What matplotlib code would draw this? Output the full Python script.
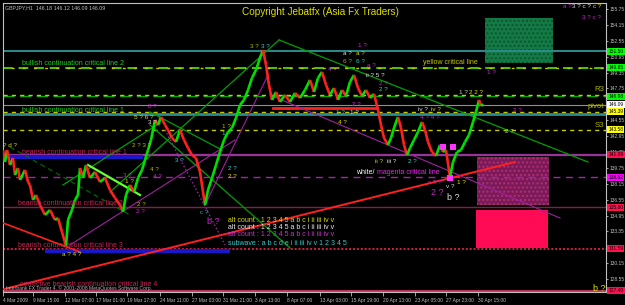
import matplotlib
matplotlib.use('Agg')
import matplotlib.pyplot as plt
from matplotlib.collections import LineCollection
from matplotlib.patches import Rectangle
import numpy as np

plt.rcParams['font.family'] = ['Liberation Sans', 'DejaVu Sans']

# GBPJPY H1 price path (bar index, price)
bars = [0, 4, 8, 14, 20, 24, 30, 34, 44, 50, 54, 60, 66, 74, 84, 94, 104, 110, 118, 126,
        130, 138, 144, 150, 154, 160, 166, 174, 184, 194, 204, 214, 224, 234, 240, 246, 254,
        262, 270, 278, 284, 290, 296, 304, 310, 316, 324, 330, 338, 346, 354, 362, 370, 378,
        386, 394, 404, 410, 418, 426, 434, 442, 450, 458, 466, 474, 482, 490, 498, 506, 514,
        520, 526, 532, 538, 546, 554, 564, 574, 584, 594, 604, 614, 622, 630, 638, 646, 654,
        662, 670, 678, 686, 694, 702, 710, 718, 726, 734, 742, 750, 756, 762, 770, 776, 782,
        790, 796, 802, 808, 814, 822, 830, 838, 844, 850, 858, 866, 874, 880, 886, 894, 900,
        908, 916, 924, 932, 940, 946, 952, 956, 960]
prices = [141.55, 140.34, 141.55, 140.04, 140.74, 139.03, 139.74, 138.53, 139.54, 138.33,
          138.03, 136.52, 137.02, 136.01, 135.01, 135.51, 134.50, 134.70, 133.29, 131.88,
          134.50, 135.51, 136.52, 137.02, 139.74, 138.73, 140.04, 138.73, 139.34, 138.33,
          138.73, 137.52, 136.72, 136.01, 135.31, 137.02, 138.03, 137.32, 138.73, 139.54,
          140.54, 141.55, 142.56, 144.57, 144.07, 144.88, 144.07, 143.57, 142.76, 142.36,
          143.57, 142.56, 141.75, 141.05, 140.74, 139.34, 136.01, 137.52, 138.73, 140.04,
          141.35, 142.56, 143.36, 143.77, 144.77, 146.08, 146.59, 147.59, 148.80, 149.61,
          150.82, 151.62, 150.11, 148.10, 146.59, 147.39, 146.39, 147.09, 146.39, 147.29,
          146.79, 147.59, 148.60, 147.39, 148.80, 149.41, 148.10, 147.09, 147.79, 146.59,
          147.59, 146.99, 148.40, 149.10, 147.79, 146.99, 147.59, 146.79, 147.19, 145.58,
          144.07, 142.76, 142.06, 142.76, 143.77, 144.88, 143.77, 142.06, 141.05, 141.75,
          142.56, 143.36, 144.37, 143.57, 142.36, 141.35, 140.95, 142.06, 141.35, 141.55,
          138.83, 140.34, 141.35, 141.55, 142.36, 143.06, 144.37, 145.38, 146.59, 145.98,
          146.18]

time_ticks = [0, 60, 124, 186, 248, 314, 378, 440, 504, 568, 634, 696, 760, 824, 886, 950]
time_labels = ['4 Mar 2009', '9 Mar 15:00', '12 Mar 07:00', '17 Mar 01:00', '19 Mar 17:00',
               '24 Mar 11:00', '27 Mar 03:00', '31 Mar 21:00', '3 Apr 13:00', '8 Apr 07:00',
               '13 Apr 03:00', '15 Apr 19:00', '20 Apr 13:00', '23 Apr 05:00',
               '27 Apr 23:00', '30 Apr 15:00']

price_ticks = [155.75, 154.15, 152.55, 150.95, 149.35, 147.75, 144.55, 142.95, 141.35,
               139.75, 138.15, 136.55, 134.95, 133.35, 130.15, 128.55]

# horizontal levels and their price tags
level_prices = [151.50, 149.85, 146.98, 146.09, 145.39, 143.58, 141.09, 138.82, 135.80,
                131.59, 127.40]
level_tags = ['151.50', '149.85', '146.98', '146.09', '145.39', '143.58', '141.09',
              '138.82', '135.80', '131.59', '127.40']
r3_price = 147.10
bull1_price = 145.18

# blue zones (bar start, bar end, price)
blue_x0 = [0, 84]
blue_x1 = [280, 454]
blue_p = [140.85, 131.38]

# boxes (bar start, bar end, price low, price high)
box_x0 = [964, 948, 946]
box_x1 = [1100, 1092, 1090]
box_lo = [150.31, 136.01, 131.68]
box_hi = [154.84, 140.85, 135.51]

# trend lines (bar0, bar1, price0, price1)
tl_x0 = [0, 0, 540, 552, 214, 120, 170, 294, 294, 14, 404, 534, 134, 324]
tl_x1 = [1024, 154, 748, 1170, 552, 314, 274, 438, 574, 254, 530, 1114, 464, 444]
tl_p0 = [127.52, 134.20, 145.73, 152.63, 137.32, 138.03, 140.04, 145.38, 144.07, 141.85,
         136.01, 147.09, 131.99, 143.57]
tl_p1 = [140.34, 131.28, 145.73, 140.34, 152.63, 144.27, 137.02, 141.55, 131.68, 135.00,
         149.10, 134.70, 142.56, 131.99]

# wave count labels (bar, price, text)
wave_x = [494, 516, 710, 680, 706, 680, 706, 728, 650, 726, 968, 912, 932, 752, 752, 830,
          856, 834, 1020, 1004, 666, 694, 670, 698, 744, 768, 810, 850, 908, 886, 0, 290,
          262, 290, 258, 438, 438, 344, 294, 300, 240, 244, 268, 266, 450, 450, 394, 118,
          1120, 1138, 1180, 1158]
wave_p = [151.92, 151.92, 152.12, 151.22, 151.22, 150.41, 150.41, 150.01, 149.61, 149.10,
          149.31, 147.29, 147.29, 148.20, 147.69, 145.58, 145.58, 144.87, 145.48, 143.46,
          145.28, 145.28, 144.27, 146.18, 140.34, 140.34, 140.34, 138.23, 138.23, 137.85,
          142.05, 145.88, 144.87, 144.27, 142.05, 143.87, 143.16, 140.54, 139.54, 138.83,
          139.03, 138.33, 136.11, 135.31, 139.64, 138.83, 135.21, 130.98, 155.95, 155.95,
          155.95, 154.94]
wave_t = ['3 ?', '3 ?', '1 ?', 'a ?', 'a ?', '6 ?', '6 ?', 'a ?', '4 ?', 'ii ? 5 ?', '1 ?',
          '1 ?', '2 2 ?', '2 ?', '2 ?', 'iv ?', 'iv ?', '4 ? 4 ?', '2 ?', '2 ?', '1 ?', '1 ?',
          '4 ?', '2 ?', 'ii ?', 'iii ?', '2 ?', 'c ? ?', '1 ?', 'v ?', '? d ?', '8 ?',
          '5 ? 6 ?', '3 ?', '2 ? 3 ?', '1 ?', '1 ?', '3 ?', '4 ?', '4 ?', '3 ?', '1 ?', '2 ?',
          '2 ?', '2 ?', '2 ?', 'c ?', 'a ? 4 ?', 'a ?', '3 ? c ?', 'c ?', '3 ? c ?']
wave_c = ['#b8b800', '#33cccc', '#cc22cc', '#dddddd', '#dddd00', '#d09030', '#33cccc',
          '#cc22cc', '#cc22cc', '#dddddd', '#cc22cc', '#cccccc', '#dddd00', '#cc22cc',
          '#33cccc', '#dddddd', '#dddd00', '#cc22cc', '#cc22cc', '#cccccc', '#33cccc',
          '#dddddd', '#dddd00', '#cc22cc', '#dddd00', '#dddddd', '#33cccc', '#cc22cc',
          '#dddd00', '#dddddd', '#dddd00', '#cc22cc', '#dddd00', '#dddddd', '#b8b800',
          '#b8b800', '#33cccc', '#33cccc', '#b8b800', '#cc22cc', '#cc22cc', '#dddd00',
          '#b8b800', '#cc22cc', '#33cccc', '#dddd00', '#33aaaa', '#dddd00', '#cc22cc',
          '#dddddd', '#dddd00', '#cc22cc']

# big labels
big_x = [856, 888, 408, 1180]
big_p = [137.25, 136.75, 134.30, 127.65]
big_t = ['2 ?', 'b ?', 'b ?', 'b ?']
big_c = ['#cc22cc', '#dddddd', '#cc22cc', '#dddd00']

# pink markers
sq_x = [880, 900, 894]
sq_p = [141.86, 141.86, 138.75]

count_lines = ['alt count : 1 2 3 4 5 a b c i ii iii iv v',
               'alt count : 1 2 3 4 5 a b c i ii iii iv v',
               'alt count : 1 2 3 4 5 a b c i ii iii iv v',
               'subwave : a b c d e i ii iii iv v 1 2 3 4 5']
count_p = [134.40, 133.70, 132.99, 132.09]

# ---------------------------------------------------------------- figure
fig = plt.figure(figsize=(6.25, 3.05), dpi=100, facecolor='black')
ax = fig.add_axes([3 / 625, 13 / 305, 603 / 625, 289 / 305])
ax.set_facecolor('black')
ax.set_xlim(0, 1206)
ax.set_ylim(127.25, 156.35)

# boxes
box_face = ['#137a45', '#7a1a5a', '#ff0a55']
box_edge = ['#0c5530', '#b0306a', '#ff0a55']
box_hatch = ['....', '....', None]
for i in range(3):
    ax.add_patch(Rectangle((box_x0[i], box_lo[i]), box_x1[i] - box_x0[i],
                           box_hi[i] - box_lo[i], facecolor=box_face[i],
                           edgecolor=box_edge[i], hatch=box_hatch[i], lw=0, zorder=1))

# horizontal levels
lv_col = ['#2a8c8c', '#44cc00', '#00aa00', '#909090', '#c8c800', '#c8c800', '#993399',
          '#aa22aa', '#8b1a4a', '#cc2244', '#cc3366']
lv_ls = ['-', (0, (5, 3)), (0, (8, 4)), '-', (0, (3, 3)), (0, (3, 3)), '-', (0, (5, 4)),
         '-', (0, (1, 1)), '-']
lv_lw = [1.4, 1.4, 1.0, 0.8, 1.0, 1.0, 1.6, 1.0, 1.0, 1.4, 2.0]
for p, c, ls, lw in zip(level_prices, lv_col, lv_ls, lv_lw):
    ax.axhline(p, color=c, ls=ls, lw=lw, zorder=2)
ax.axhline(r3_price, color='#c8c800', ls=(0, (3, 3)), lw=1.0, zorder=2)
ax.axhline(bull1_price, color='#2a8c8c', lw=2.0, zorder=2)
ax.axhline(149.85, color='#c8c800', ls=(2, (2, 6)), lw=1.0, zorder=2)

for x0, x1, p in zip(blue_x0, blue_x1, blue_p):
    ax.plot([x0, x1], [p, p], color='#1818c8', lw=3, zorder=2, solid_capstyle='butt')

# trend lines
tl_col = ['#ff2020', '#ff2020', '#ff2020', '#00a000', '#00a000', '#00a000', '#66ff33',
          '#00a000', '#00a000', '#006600', '#a020a0', '#a020a0', '#a020a0', '#a020a0']
tl_ls = ['-', '-', '-', '-', '-', '-', '-', '-', '-', (0, (4, 3)), '-', '-', '-', ':']
tl_lw = [1.4, 1.2, 2.0, 0.9, 0.9, 0.9, 1.6, 0.9, 0.9, 0.9, 0.8, 0.8, 0.8, 1.0]
for i in range(len(tl_x0)):
    ax.plot([tl_x0[i], tl_x1[i]], [tl_p0[i], tl_p1[i]], color=tl_col[i], ls=tl_ls[i],
            lw=tl_lw[i], zorder=3)

# price
pts = np.column_stack([bars, prices])
segs = np.stack([pts[:-1], pts[1:]], axis=1)
cols = ['#00e000' if b > a else '#ff2020' for a, b in zip(prices[:-1], prices[1:])]
ax.add_collection(LineCollection(segs, colors=cols, linewidths=1.9, zorder=4))

ax.scatter(sq_x, sq_p, marker='s', s=22, color='#ff33ff', zorder=5, linewidths=0)

# text on chart
fs = 4.6
ax.text(634, 155.45, 'Copyright Jebatfx (Asia Fx Traders)', color='#e0e000',
        fontsize=7.2, ha='center', va='center', zorder=6)
for t, b, p, c in [('bullish continuation critical line 2', 38, 150.21, '#22cc22'),
                   ('bullish continuation critical line 1', 38, 145.48, '#22cc22'),
                   ('bearish continuation critical line 1', 38, 141.25, '#cc2255'),
                   ('bearish continuation critical line 2', 30, 136.21, '#cc2255'),
                   ('bearish continuation critical line 3', 30, 131.98, '#cc2255'),
                   ('yellow critical line', 840, 150.31, '#c8c800')]:
    ax.text(b, p, t, color=c, fontsize=fs + 0.4, ha='left', va='center', zorder=6)
ax.text(706, 139.24, 'white/', color='white', fontsize=fs + 0.4, ha='left', va='center',
        zorder=6)
ax.text(748, 139.24, 'magenta critical line', color='#ee22ee', fontsize=fs + 0.4,
        ha='left', va='center', zorder=6)
for t, p in [('R3', 147.59), ('pivot', 145.88), ('S3', 143.97)]:
    ax.text(1203, p, t, color='#b0b000', fontsize=fs + 1, ha='right', va='center', zorder=6)

for x, p, t, c in zip(wave_x, wave_p, wave_t, wave_c):
    ax.text(x, p, t, color=c, fontsize=fs, ha='left', va='center', zorder=6)
for x, p, t, c in zip(big_x, big_p, big_t, big_c):
    ax.text(x, p, t, color=c, fontsize=6.5, ha='left', va='center', zorder=6)

cnt_col = ['#dddd00', '#eeeeee', '#cc33cc', '#33cccc']
for t, p, c in zip(count_lines, count_p, cnt_col):
    ax.text(450, p, t, color=c, fontsize=fs + 0.4, ha='left', va='center', zorder=6)

ax.text(0.003, 0.993, 'GBPJPY,H1  146.18 146.12 146.09 146.09', color='#c0c0c0',
        fontsize=3.8, transform=ax.transAxes, ha='left', va='top', zorder=6)
ax.text(0.028, 0.014, 'corrective bearish continuation critical line 4', color='#cc2255',
        fontsize=fs + 0.4, transform=ax.transAxes, ha='left', va='bottom', zorder=6)
ax.text(0.005, 0.003, 'Interbank FX Trader 4, \u00a9 2001-2008 MetaQuotes Software Corp.',
        color='#b0b0b0', fontsize=3.6, transform=ax.transAxes, ha='left', va='bottom',
        zorder=6)

# axes
for s in ax.spines.values():
    s.set_color('#c0c0c0')
    s.set_linewidth(0.8)
ax.yaxis.tick_right()
ax.set_yticks(price_ticks)
ax.set_yticklabels(['%.2f' % p for p in price_ticks])
ax.tick_params(axis='y', colors='#c0c0c0', labelsize=3.5, length=1.5, width=0.6, pad=0.8)
ax.set_xticks(time_ticks)
ax.set_xticklabels(time_labels)
ax.tick_params(axis='x', colors='#c0c0c0', labelsize=3.5, length=3, width=0.6, pad=1.5)
for lab in ax.get_xticklabels():
    lab.set_ha('left')

tag_bg = ['#00ff00', '#00ff00', '#00ff00', '#ffffff', '#ffff00', '#ffff00', '#ff1050',
          '#ff00ff', '#ff1050', '#ff1050', '#ff1050']
ytr = ax.get_yaxis_transform()
for p, t, c in zip(level_prices, level_tags, tag_bg):
    ax.text(1.004, p, t, color='black', fontsize=3.5, transform=ytr, ha='left',
            va='center', clip_on=False, zorder=7,
            bbox=dict(boxstyle='square,pad=0.2', fc=c, ec='none'))

fig.savefig('out.png', dpi=100, facecolor='black')
